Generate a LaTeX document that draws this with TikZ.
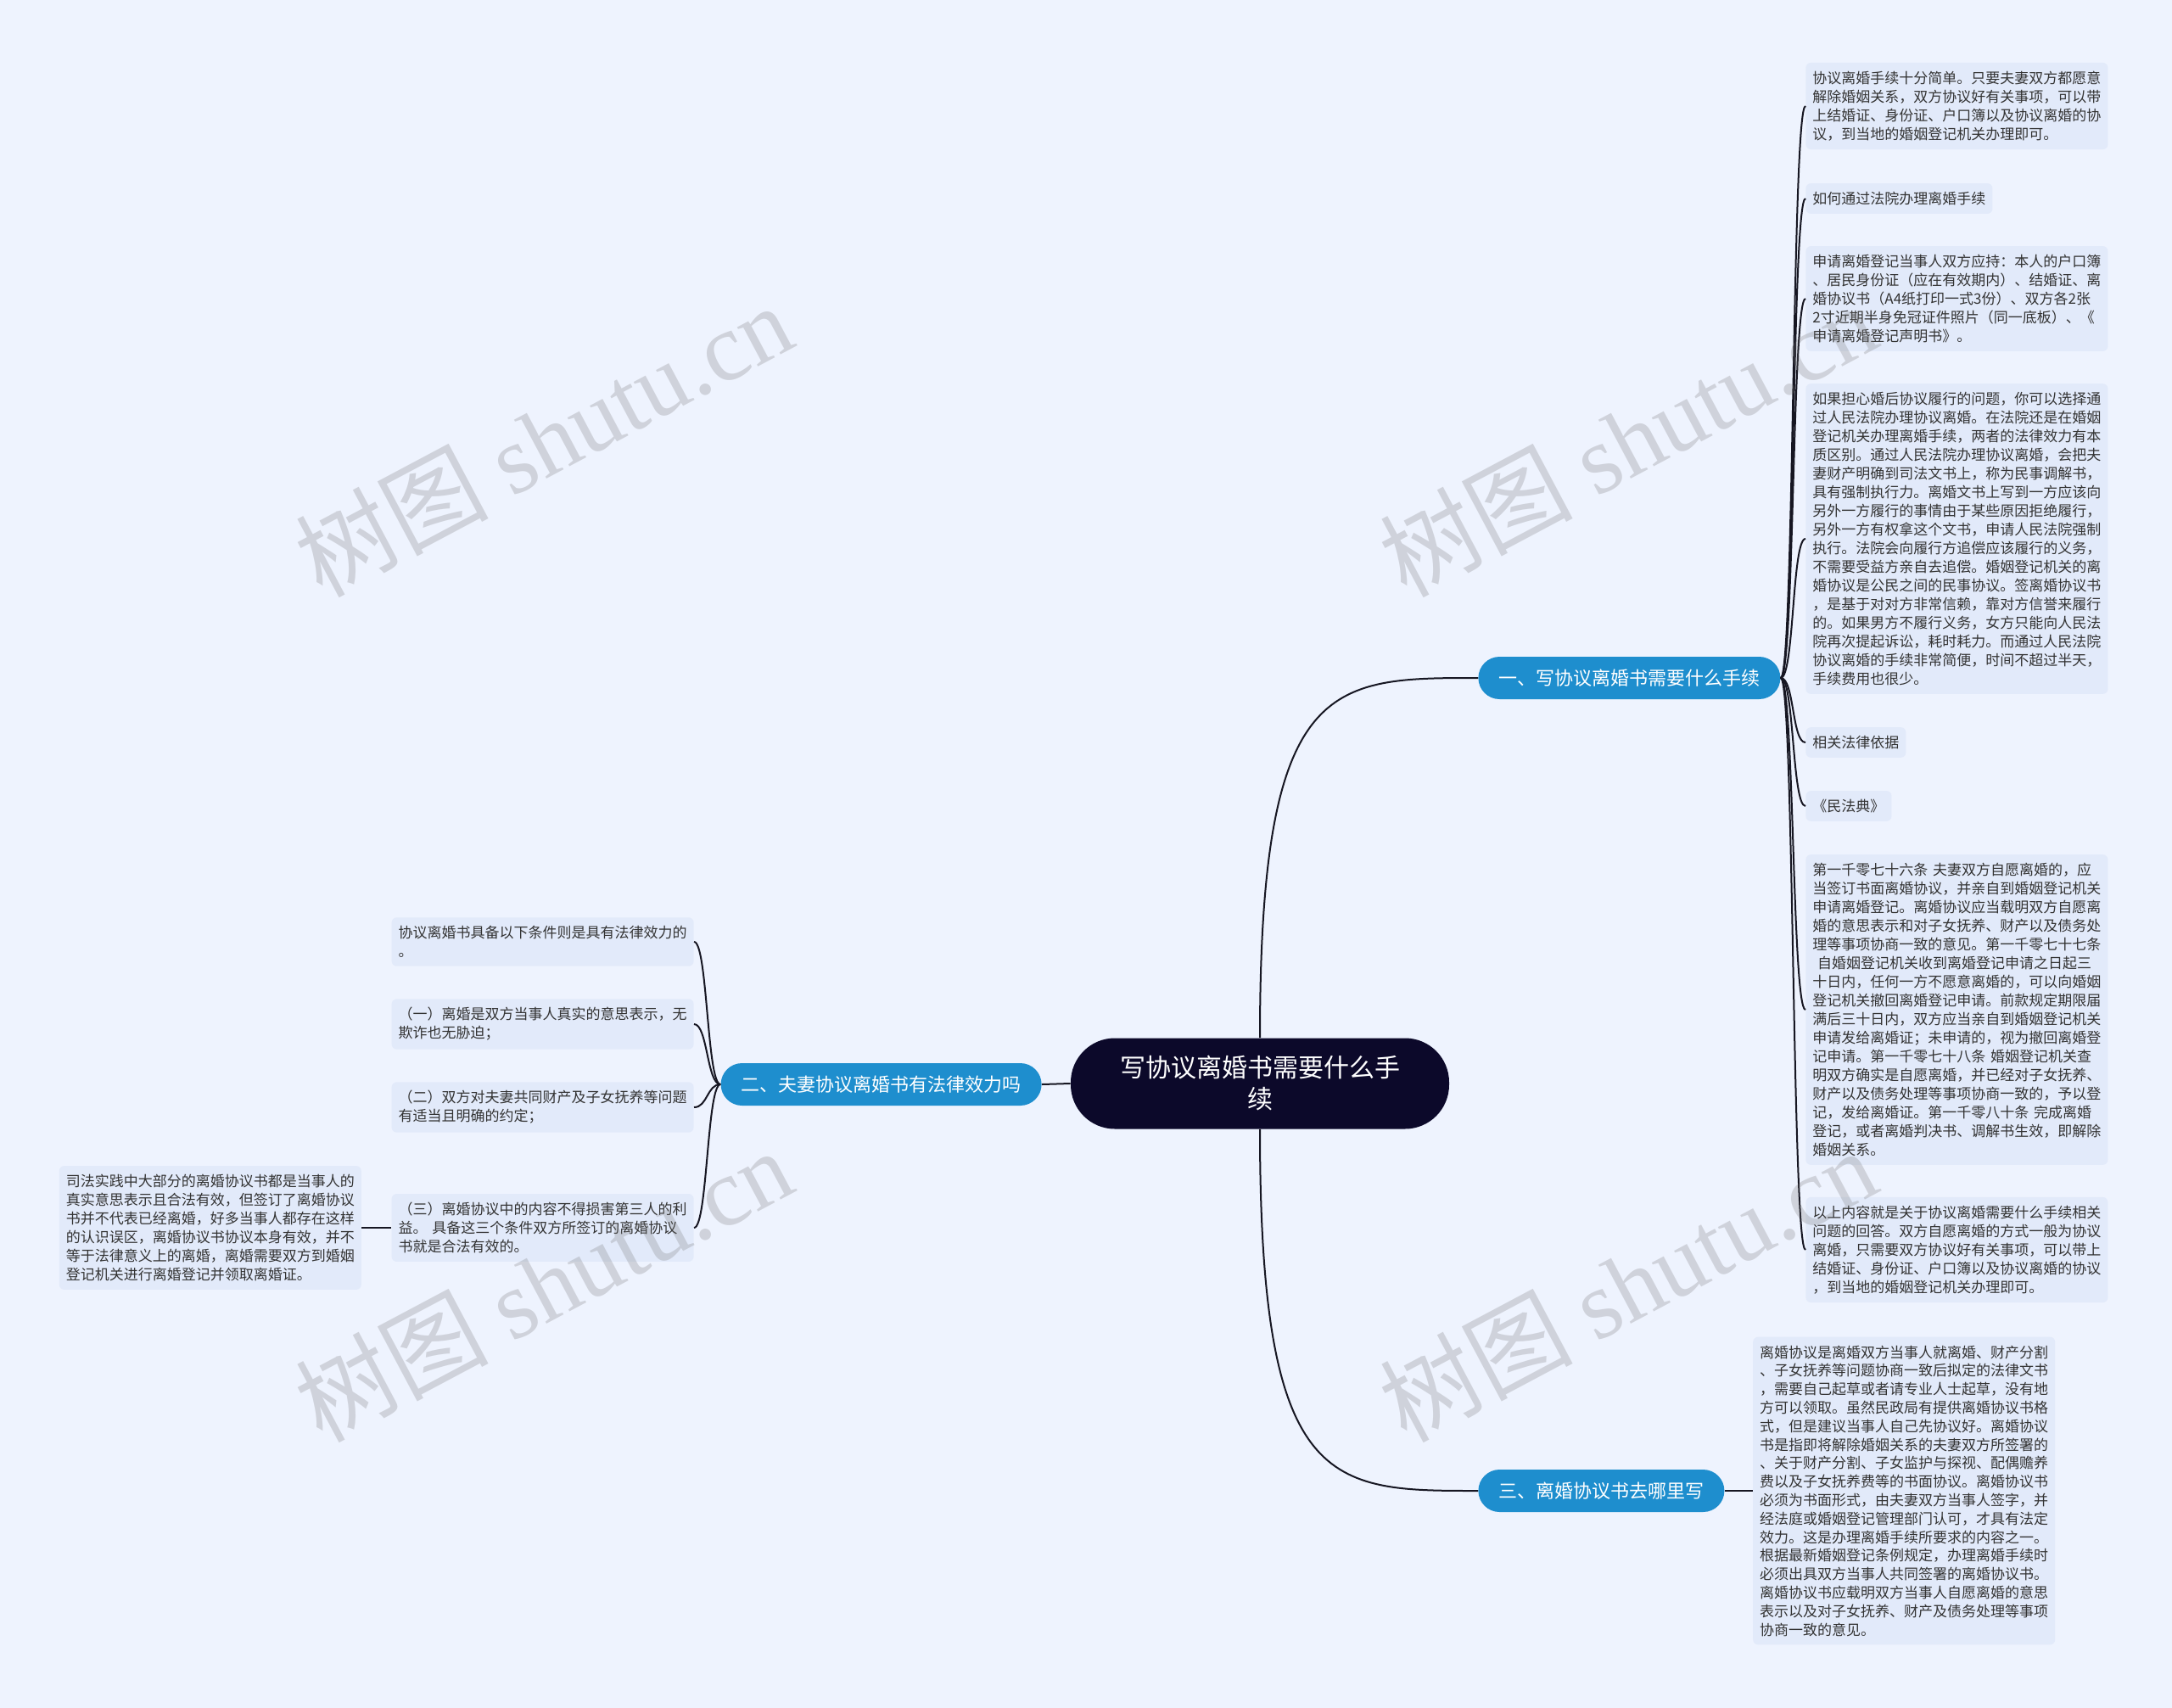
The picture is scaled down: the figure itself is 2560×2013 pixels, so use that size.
\documentclass[tikz,border=0pt]{standalone}
\usepackage{fontspec}
\setmainfont{Noto Sans CJK SC}
\newfontfamily\wmlatin{Liberation Serif}
\usetikzlibrary{positioning}
\definecolor{bgblue}{RGB}{238,243,254}
\definecolor{leaffill}{RGB}{226,234,250}
\definecolor{topicblue}{RGB}{30,142,206}
\definecolor{rootnavy}{RGB}{12,9,42}
\definecolor{linkdark}{RGB}{22,22,34}
\definecolor{leaftext}{RGB}{51,51,51}
\tikzset{
	rootnode/.style={
		rectangle,
		rounded corners=26pt,
		fill=rootnavy,
		text=white,
		minimum width=223pt,
		minimum height=53.5pt,
		align=center,
		font=\fontsize{15pt}{18.5pt}\selectfont},
	topicnode/.style={
		rectangle,
		rounded corners=12.5pt,
		fill=topicblue,
		text=white,
		minimum height=25pt,
		inner xsep=12pt,
		font=\fontsize{11pt}{13pt}\selectfont},
	leafnode/.style={
		rectangle,
		rounded corners=3pt,
		fill=leaffill,
		text=leaftext,
		text width=170pt,
		align=left,
		inner xsep=4pt,
		inner ysep=5pt,
		font=\fontsize{8.5pt}{11pt}\selectfont},
	tagnode/.style={leafnode, text width={}},
	link/.style={draw=linkdark, line width=1pt},
	watermark/.style={
		text=black!55,
		text opacity=0.25,
		rotate=28,
		font=\fontsize{57pt}{60pt}\selectfont},
}
\begin{document}
\begin{tikzpicture}[x=0.5pt,y=-0.5pt]
\fill[bgblue] (0,0) rectangle (2560,2013);
\useasboundingbox (0,0) rectangle (2560,2013);

\node[rootnode] (root) at (1485,1277) {写协议离婚书需要什么手\\续};

\node[topicnode, anchor=west] (t1) at (1742,799) {一、写协议离婚书需要什么手续};
\node[topicnode, anchor=east] (t2) at (1228,1278) {二、夫妻协议离婚书有法律效力吗};
\node[topicnode, anchor=west] (t3) at (1742,1757) {三、离婚协议书去哪里写};

% branch one
\node[leafnode, anchor=west] (r1) at (2128,125) {协议离婚手续十分简单。只要夫妻双方都愿意\\解除婚姻关系，双方协议好有关事项，可以带\\上结婚证、身份证、户口簿以及协议离婚的协\\议，到当地的婚姻登记机关办理即可。};
\node[tagnode, anchor=west] (r2) at (2128,234) {如何通过法院办理离婚手续};
\node[leafnode, anchor=west] (r3) at (2128,352) {申请离婚登记当事人双方应持：本人的户口簿\\、居民身份证（应在有效期内）、结婚证、离\\婚协议书（A4纸打印一式3份）、双方各2张\\2寸近期半身免冠证件照片（同一底板）、《\\申请离婚登记声明书》。};
\node[leafnode, anchor=west] (r4) at (2128,635) {如果担心婚后协议履行的问题，你可以选择通\\过人民法院办理协议离婚。在法院还是在婚姻\\登记机关办理离婚手续，两者的法律效力有本\\质区别。通过人民法院办理协议离婚，会把夫\\妻财产明确到司法文书上，称为民事调解书，\\具有强制执行力。离婚文书上写到一方应该向\\另外一方履行的事情由于某些原因拒绝履行，\\另外一方有权拿这个文书，申请人民法院强制\\执行。法院会向履行方追偿应该履行的义务，\\不需要受益方亲自去追偿。婚姻登记机关的离\\婚协议是公民之间的民事协议。签离婚协议书\\，是基于对对方非常信赖，靠对方信誉来履行\\的。如果男方不履行义务，女方只能向人民法\\院再次提起诉讼，耗时耗力。而通过人民法院\\协议离婚的手续非常简便，时间不超过半天，\\手续费用也很少。};
\node[tagnode, anchor=west] (r5) at (2128,875) {相关法律依据};
\node[tagnode, anchor=west] (r6) at (2128,950) {《民法典》};
\node[leafnode, anchor=west] (r7) at (2128,1190) {第一千零七十六条 夫妻双方自愿离婚的，应\\当签订书面离婚协议，并亲自到婚姻登记机关\\申请离婚登记。离婚协议应当载明双方自愿离\\婚的意思表示和对子女抚养、财产以及债务处\\理等事项协商一致的意见。第一千零七十七条\\\ 自婚姻登记机关收到离婚登记申请之日起三\\十日内，任何一方不愿意离婚的，可以向婚姻\\登记机关撤回离婚登记申请。前款规定期限届\\满后三十日内，双方应当亲自到婚姻登记机关\\申请发给离婚证；未申请的，视为撤回离婚登\\记申请。第一千零七十八条 婚姻登记机关查\\明双方确实是自愿离婚，并已经对子女抚养、\\财产以及债务处理等事项协商一致的，予以登\\记，发给离婚证。第一千零八十条 完成离婚\\登记，或者离婚判决书、调解书生效，即解除\\婚姻关系。};
\node[leafnode, anchor=west] (r8) at (2128,1473) {以上内容就是关于协议离婚需要什么手续相关\\问题的回答。双方自愿离婚的方式一般为协议\\离婚，只需要双方协议好有关事项，可以带上\\结婚证、身份证、户口簿以及协议离婚的协议\\，到当地的婚姻登记机关办理即可。};

% branch two
\node[leafnode, anchor=east] (l1) at (818,1110) {协议离婚书具备以下条件则是具有法律效力的\\。};
\node[leafnode, anchor=east] (l2) at (818,1207) {（一）离婚是双方当事人真实的意思表示，无\\欺诈也无胁迫；};
\node[leafnode, anchor=east] (l3) at (818,1305) {（二）双方对夫妻共同财产及子女抚养等问题\\有适当且明确的约定；};
\node[leafnode, anchor=east] (l4) at (818,1447) {（三）离婚协议中的内容不得损害第三人的利\\益。 具备这三个条件双方所签订的离婚协议\\书就是合法有效的。};
\node[leafnode, left=17.5pt of l4] (f1) {司法实践中大部分的离婚协议书都是当事人的\\真实意思表示且合法有效，但签订了离婚协议\\书并不代表已经离婚，好多当事人都存在这样\\的认识误区，离婚协议书协议本身有效，并不\\等于法律意义上的离婚，离婚需要双方到婚姻\\登记机关进行离婚登记并领取离婚证。};

% branch three
\node[leafnode, right=16.5pt of t3, font=\fontsize{8.5pt}{10.9pt}\selectfont] (s1) {离婚协议是离婚双方当事人就离婚、财产分割\\、子女抚养等问题协商一致后拟定的法律文书\\，需要自己起草或者请专业人士起草，没有地\\方可以领取。虽然民政局有提供离婚协议书格\\式，但是建议当事人自己先协议好。离婚协议\\书是指即将解除婚姻关系的夫妻双方所签署的\\、关于财产分割、子女监护与探视、配偶赡养\\费以及子女抚养费等的书面协议。离婚协议书\\必须为书面形式，由夫妻双方当事人签字，并\\经法庭或婚姻登记管理部门认可，才具有法定\\效力。这是办理离婚手续所要求的内容之一。\\根据最新婚姻登记条例规定，办理离婚手续时\\必须出具双方当事人共同签署的离婚协议书。\\离婚协议书应载明双方当事人自愿离婚的意思\\表示以及对子女抚养、财产及债务处理等事项\\协商一致的意见。};

% connectors
\draw[link] (root.north) .. controls +(0,-424) and +(-175,0) .. (t1.west);
\draw[link] (root.south) .. controls +(0,426) and +(-175,0) .. (t3.west);
\draw[link] (root.west) -- (t2.east);
\foreach \n in {r1,r2,r3,r4,r5,r6,r7,r8}
	\draw[link] (t1.east) .. controls +(16,0) and +(-16,0) .. (\n.west);
\foreach \n in {l1,l2,l3,l4}
	\draw[link] (t2.west) .. controls +(-16,0) and +(16,0) .. (\n.east);
\draw[link] (l4.west) -- (f1.east);
\draw[link] (t3.east) -- (s1.west);

% watermarks
\node[watermark] (w1) at (640,518) {树图 {\wmlatin shutu.cn}};
\node[watermark] (w2) at (1918,518) {树图 {\wmlatin shutu.cn}};
\node[watermark] (w3) at (640,1514) {树图 {\wmlatin shutu.cn}};
\node[watermark] (w4) at (1918,1514) {树图 {\wmlatin shutu.cn}};
\end{tikzpicture}
\end{document}
